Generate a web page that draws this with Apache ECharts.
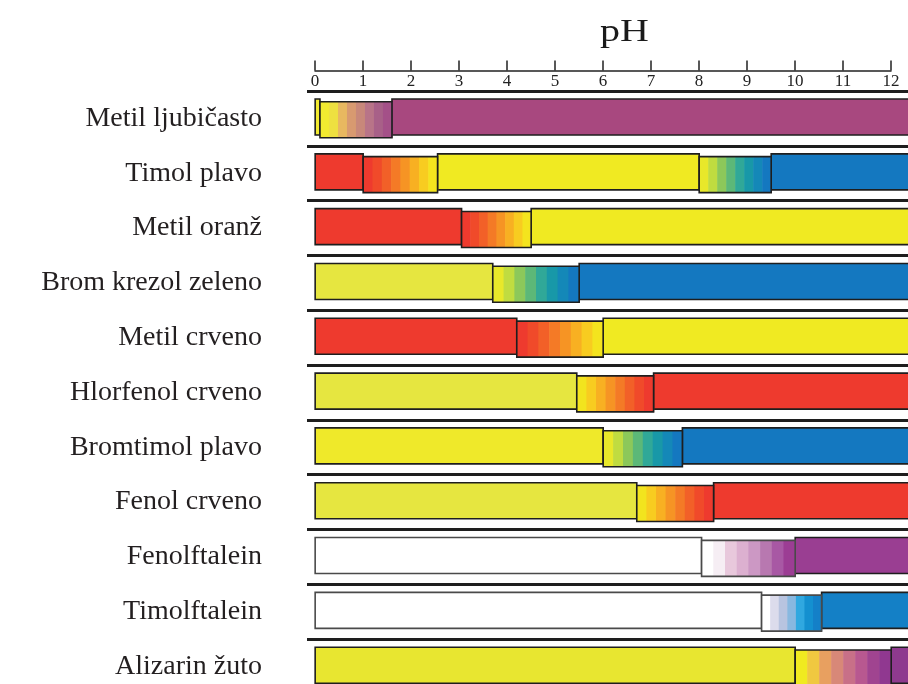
<!DOCTYPE html>
<html>
<head>
<meta charset="utf-8">
<script src="https://cdn.jsdelivr.net/npm/echarts@6/dist/echarts.min.js"></script>
<style>
html,body{margin:0;padding:0;background:#fff;}
#chart{width:908px;height:684px;}
</style>
</head>
<body>
<div id="chart"></div>
<script>
// ---- data ----
const categories = ['Metil ljubičasto','Timol plavo','Metil oranž','Brom krezol zeleno','Metil crveno','Hlorfenol crveno','Bromtimol plavo','Fenol crveno','Fenolftalein','Timolftalein','Alizarin žuto'];
const phTicks = [0,1,2,3,4,5,6,7,8,9,10,11,12];
// colour-change (transition) intervals
const transRow   = [0,   1,    1,   2,    3,   4,   5,    6,   7,   8,    9,    10];
const transStart = [0.1, 1.0,  8.0, 3.05, 3.7, 4.2, 5.45, 6.0, 6.7, 8.05, 9.3,  10.0];
const transEnd   = [1.6, 2.55, 9.5, 4.5,  5.5, 6.0, 7.05, 7.65,8.3, 10.0, 10.55,12.0];
const transPalette = ['violet','redYellow','yellowBlue','redYellow','yellowBlue','redYellow','yellowRed','yellowBlue','yellowRed','whitePurple','whiteBlue','yellowPurple'];
// solid colours of each indicator (acid ... base)
const rowColors = [
  ['#f2ea30','#a8487f'],
  ['#ee3a2e','#f0ea22','#1478c0'],
  ['#ee3a2e','#f0ea22'],
  ['#e6e640','#1478c0'],
  ['#ee3a2e','#f0ea22'],
  ['#e6e640','#ee3a2e'],
  ['#efe92a','#1478c0'],
  ['#e6e640','#ee3a2e'],
  ['#ffffff','#9a3e92'],
  ['#ffffff','#1480c6'],
  ['#e8e630','#8e3a8e']
];
// band colours used inside transition intervals
const palettes = {
  violet:      ['#f2ea30','#eee040','#e8b860','#d89a70','#c8887a','#b87488','#a86088','#a45088'],
  redYellow:   ['#ee3a2e','#f04a2a','#f26028','#f47a26','#f69424','#f8b022','#f8cc20','#f4e41e'],
  yellowRed:   ['#f2e41e','#f8cc20','#f8b022','#f69424','#f47a26','#f26028','#f04a2a','#ee3a2e'],
  yellowBlue:  ['#e8e82a','#c0dc40','#8cc85a','#5cb878','#30a898','#1898a8','#1488b8','#1478c0'],
  whitePurple: ['#ffffff','#f6eef4','#e8c8dc','#dcb0d0','#cc98c4','#b878b0','#a858a4','#9c3d94'],
  whiteBlue:   ['#ffffff','#dcdcec','#b8c4e0','#88b8e0','#30a8e0','#1490d0','#1480c8'],
  yellowPurple:['#f0ea20','#f0c840','#e8a060','#d88878','#c87088','#b85890','#a04490','#903890']
};
const X_MIN = -0.17, X_MAX = 12.35, BAR_END = 13;

// ---- build segments ----
const segments = [];
const solids = [], trans = [];
categories.forEach((name, r) => {
  const idx = [];
  transRow.forEach((rr, k) => { if (rr === r) idx.push(k); });
  idx.sort((a, b) => transStart[a] - transStart[b]);
  let pos = 0;
  idx.forEach((k, j) => {
    solids.push({kind: 's', s: pos, e: transStart[k], row: r, color: rowColors[r][j]});
    trans.push({kind: 't', s: transStart[k], e: transEnd[k], row: r, bands: palettes[transPalette[k]],
                white: rowColors[r][j] === '#ffffff'});
    pos = transEnd[k];
  });
  solids.push({kind: 's', s: pos, e: BAR_END, row: r, color: rowColors[r][idx.length]});
});
solids.forEach(s => segments.push(s));
trans.forEach(t => segments.push(t));
const seriesData = segments.map(s => [s.s, s.e, s.row]);

function renderItem(params, api) {
  const seg = segments[params.dataIndex];
  const p0 = api.coord([api.value(0), api.value(2)]);
  const p1 = api.coord([api.value(1), api.value(2)]);
  const bh = 36;
  const dy = seg.kind === 't' ? 1.4 : -1.4;
  const y = p0[1] - bh / 2 + dy;
  const x = p0[0], w = p1[0] - p0[0];
  const isWhite = seg.kind === 's' ? seg.color === '#ffffff' : seg.white;
  const stroke = isWhite ? '#4a4a4a' : '#1e1e1e';
  if (seg.kind === 's') {
    return {type: 'rect', shape: {x: x, y: y, width: w, height: bh},
            style: {fill: seg.color, stroke: stroke, lineWidth: 1.6}};
  }
  const n = seg.bands.length, bw = w / n;
  const children = seg.bands.map((c, i) => ({
    type: 'rect', shape: {x: x + i * bw, y: y, width: bw + 0.6, height: bh},
    style: {fill: c}
  }));
  children.push({type: 'rect', shape: {x: x, y: y, width: w, height: bh},
                 style: {fill: 'none', stroke: stroke, lineWidth: 1.6}});
  return {type: 'group', children: children};
}

const chart = echarts.init(document.getElementById('chart'), null, {renderer: 'canvas'});
chart.setOption({
  backgroundColor: '#ffffff',
  animation: false,
  graphic: [{
    type: 'text', x: 600, y: 33, scaleX: 1.25,
    style: {text: 'pH', x: 0, y: 0, fontSize: 32, fontFamily: '"Liberation Serif", serif',
            fill: '#1a1a1a', align: 'left', verticalAlign: 'middle'}
  }],
  grid: [
    {left: 307, right: 0, top: 91, height: 603, containLabel: false, outerBoundsMode: 'none'},
    {left: 315, width: 576, top: 0, height: 70.5, containLabel: false, outerBoundsMode: 'none'}
  ],
  xAxis: [
    {type: 'value', gridIndex: 0, min: X_MIN, max: X_MAX, show: false},
    {type: 'value', gridIndex: 1, min: phTicks[0], max: phTicks[phTicks.length - 1], interval: 1,
     axisLine: {show: true, lineStyle: {color: '#222', width: 1.5}},
     axisTick: {show: true, inside: true, length: 10, lineStyle: {color: '#222', width: 1.5}},
     axisLabel: {show: true, margin: 3, fontSize: 17, fontFamily: '"Liberation Serif", serif', color: '#222',
                 formatter: v => String(v)},
     splitLine: {show: false}}
  ],
  yAxis: [
    {type: 'category', gridIndex: 0, data: categories, inverse: true,
     axisLine: {show: false}, axisTick: {show: false},
     axisLabel: {show: true, margin: 45, fontSize: 28, fontFamily: '"Liberation Serif", serif',
                 color: '#231f20', padding: [0, 0, 24, 0]},
     splitLine: {show: true, lineStyle: {color: '#1e1e1e', width: 3}}},
    {type: 'value', gridIndex: 1, show: false, min: 0, max: 1}
  ],
  series: [{
    type: 'custom', xAxisIndex: 0, yAxisIndex: 0, clip: true,
    renderItem: renderItem,
    encode: {x: [0, 1], y: 2},
    data: seriesData
  }]
});
</script>
</body>
</html>
